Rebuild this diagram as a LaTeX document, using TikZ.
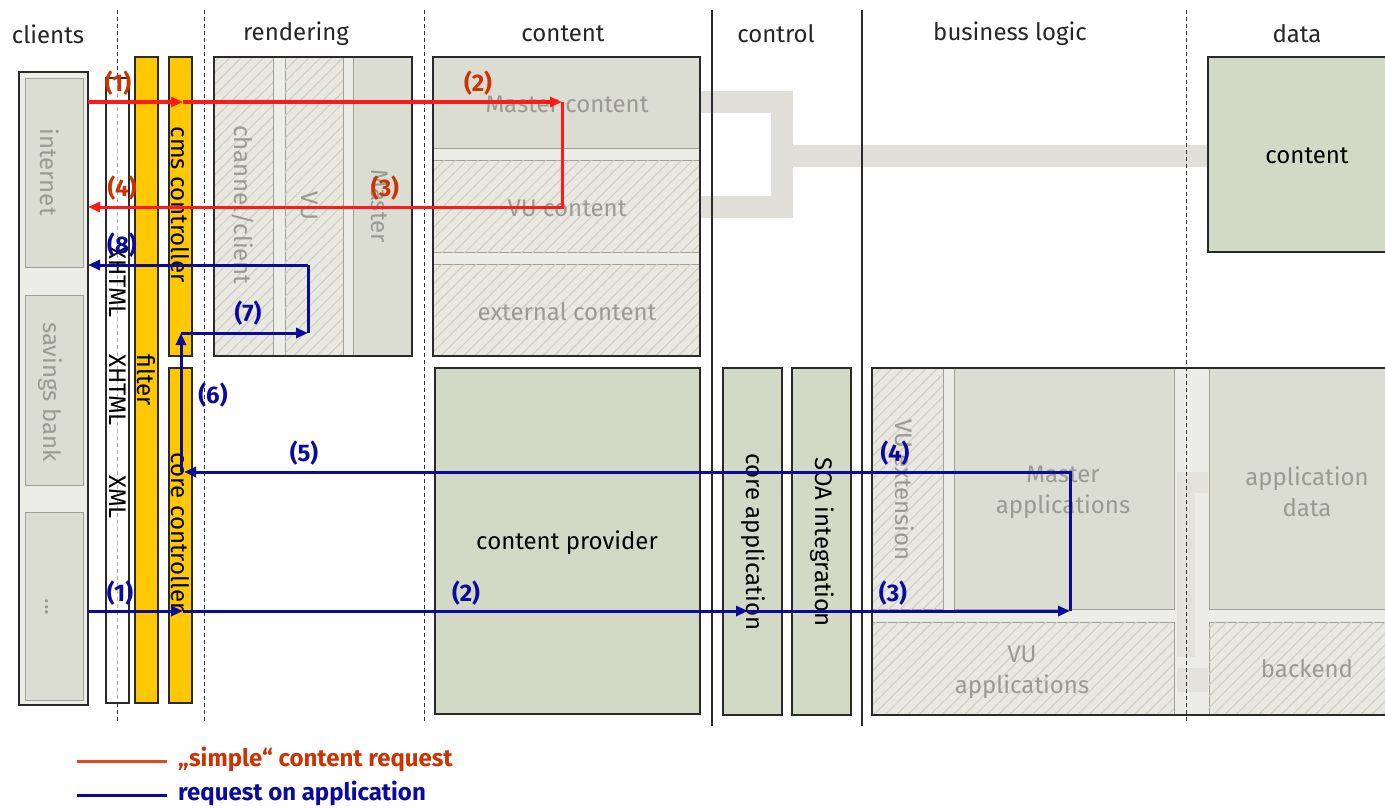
\documentclass[tikz,border=0pt]{standalone}
\usepackage{fontspec}
\setmainfont{Fira Sans}
\usetikzlibrary{arrows.meta,patterns.meta}
\definecolor{cgreen}{HTML}{D2DAC5}
\definecolor{csolid}{HTML}{DCDDD2}
\definecolor{chatchbg}{HTML}{E8E8E0}
\definecolor{chatchln}{HTML}{CDCDC3}
\definecolor{cgap}{HTML}{EDEDE8}
\definecolor{cband}{HTML}{E0E0D8}
\definecolor{cfaint}{HTML}{E3E3DB}
\definecolor{cyellow}{HTML}{FFC800}
\definecolor{cgrayt}{HTML}{9A9A92}
\definecolor{cinner}{HTML}{A0A098}
\definecolor{cdark}{HTML}{2A2A2A}
\definecolor{cred}{HTML}{FF1A1A}
\definecolor{credlbl}{HTML}{CC3300}
\definecolor{credleg}{HTML}{E04A1A}
\definecolor{cblue}{HTML}{0A0A9E}
\tikzset{
  box/.style={draw=cdark, line width=1.6pt, inner sep=0pt, outer sep=0pt, anchor=north west},
  ibox/.style={draw=cinner, line width=1pt, inner sep=0pt, outer sep=0pt, anchor=north west},
  solidbox/.style={ibox, fill=csolid},
  greenbox/.style={box, fill=cgreen},
  hatchbox/.style={ibox, fill=chatchbg, postaction={pattern={Lines[angle=45,distance=8pt,line width=1pt]}, pattern color=chatchln}},
  ybox/.style={box, fill=cyellow},
  txt/.style={font=\fontsize{24}{31}\selectfont, inner sep=0pt, text=black},
  gtxt/.style={txt, text=cgrayt},
  vtxt/.style={txt, rotate=-90},
  gvtxt/.style={gtxt, rotate=-90},
  head/.style={txt, text=black!85},
  rlbl/.style={font=\bfseries\fontsize{24}{28}\selectfont, inner sep=0pt, text=credlbl},
  blbl/.style={font=\bfseries\fontsize{24}{28}\selectfont, inner sep=0pt, text=cblue},
  legtxt/.style={font=\bfseries\fontsize{24}{28}\selectfont, anchor=west, inner sep=0pt},
  sep/.style={line width=0.9pt, dashed, dash pattern=on 4pt off 3pt, draw=black!80},
  wall/.style={line width=2.5pt, draw=cdark},
  band/.style={draw=cband, line width=22pt},
  redarr/.style={draw=cred, line width=3pt, -{Triangle[length=12pt,width=10pt]}},
  redln/.style={draw=cred, line width=3pt},
  bluearr/.style={draw=cblue, line width=3pt, -{Triangle[length=12pt,width=10pt]}},
  blueln/.style={draw=cblue, line width=3pt},
}
\begin{document}
\begin{tikzpicture}[x=1pt,y=-1pt]
\clip (0,0) rectangle (1385,808);
\fill[white] (0,0) rectangle (1385,808);

% headings
\node[head] (hcl) at (48,34) {clients};
\node[head] (hre) at (296,34) {rendering};
\node[head] (hco) at (563,34) {content};
\node[head] (hct) at (776,34) {control};
\node[head] (hbl) at (1010,34) {business logic};
\node[head] (hda) at (1297,34) {data};

% connector bands content -> data
\draw[band] (700,102) -- (782,102) -- (782,207) -- (700,207);
\draw[band] (782,155.5) -- (1210,155.5);

% clients
\node[box, fill=cgap, minimum width=69pt, minimum height=633pt] (cl) at (19,72) {};
\node[solidbox, minimum width=58pt, minimum height=188pt] (inet) at (25,79) {};
\node[solidbox, minimum width=58pt, minimum height=190pt] (sav) at (25,295) {};
\node[solidbox, minimum width=58pt, minimum height=188pt] (dots) at (25,512) {};
\node[gvtxt] (tinet) at (50,172) {internet};
\node[gvtxt] (tsav) at (50,392) {savings bank};
\node[gvtxt] (tdots) at (47,607) {...};

% format strip
\node[box, line width=1.2pt, fill=white, minimum width=23pt, minimum height=625pt] (strip) at (106,78) {};
\draw[sep, draw=black!30] (117,79) -- (117,702);
\node[vtxt] (tx1) at (118,282) {XHTML};
\node[vtxt] (tx2) at (118,390) {XHTML};
\node[vtxt] (tx3) at (118,497) {XML};

% filter and controllers
\node[ybox, minimum width=23pt, minimum height=646pt] (filter) at (135,57) {};
\node[vtxt] (tfil) at (146,380) {filter};
\node[ybox, minimum width=23pt, minimum height=299pt] (cms) at (169,57) {};
\node[vtxt] (tcms) at (180,205) {cms controller};
\node[ybox, minimum width=23pt, minimum height=335pt] (core) at (169,368) {};
\node[vtxt] (tcore) at (180,532) {core controller};

% rendering
\node[box, fill=cgap, minimum width=198pt, minimum height=299pt] (rend) at (214,57) {};
\node[hatchbox, minimum width=59pt, minimum height=299pt] (chan) at (214,57) {};
\node[hatchbox, minimum width=58pt, minimum height=299pt] (vur) at (285,57) {};
\node[solidbox, minimum width=59pt, minimum height=299pt] (mar) at (353,57) {};
\draw[box, fill=none] (214,57) rectangle (412,356);
\node[gvtxt] (tchan) at (243,205) {channel/client};
\node[gvtxt] (tvur) at (310,206) {VU};
\node[gvtxt] (tmar) at (380,206) {Master};

% content
\node[box, fill=cgap, minimum width=267pt, minimum height=299pt] (cont) at (433,57) {};
\node[solidbox, minimum width=267pt, minimum height=91pt] (mcont) at (433,57) {};
\node[hatchbox, minimum width=267pt, minimum height=92pt] (vcont) at (433,160) {};
\node[hatchbox, minimum width=267pt, minimum height=92pt] (econt) at (433,264) {};
\draw[box, fill=none] (433,57) rectangle (700,356);
\node[gtxt] (tmcont) at (567,104) {Master content};
\node[gtxt] (tvcont) at (567,208) {VU content};
\node[gtxt] (tecont) at (567,312) {external content};

\node[greenbox, minimum width=265pt, minimum height=346pt] (prov) at (435,368) {};
\node[txt] (tprov) at (567,543) {content provider};

% control
\node[greenbox, minimum width=59pt, minimum height=347pt] (capp) at (723,368) {};
\node[vtxt] (tcapp) at (753,542) {core application};
\node[greenbox, minimum width=59pt, minimum height=347pt] (soa) at (792,368) {};
\node[vtxt] (tsoa) at (822,542) {SOA integration};

% business logic / data lower block
\node[box, fill=cgap, minimum width=520pt, minimum height=347pt] (biz) at (872,368) {};
\fill[cfaint] (1177,472) rectangle (1208,493);
\fill[cfaint] (1177,493) rectangle (1195,657);
\fill[cfaint] (1177,668) rectangle (1208,692);
\node[hatchbox, minimum width=71pt, minimum height=241pt] (vext) at (872,368) {};
\node[solidbox, minimum width=220pt, minimum height=241pt] (mapp) at (954,368) {};
\node[hatchbox, minimum width=302pt, minimum height=93pt] (vapp) at (872,622) {};
\node[solidbox, minimum width=190pt, minimum height=241pt] (adata) at (1209,368) {};
\node[hatchbox, minimum width=190pt, minimum height=93pt] (back) at (1209,622) {};
\draw[box, fill=none] (872,368) rectangle (1392,715);
\node[gvtxt] (tvext) at (905,490) {VU extension};
\node[gtxt, align=center] (tmapp) at (1063,492) {Master\\applications};
\node[gtxt, align=center] (tvapp) at (1022,672) {VU\\applications};
\node[gtxt, align=center] (tadata) at (1307,492) {application\\data};
\node[gtxt] (tback) at (1307,669) {backend};

% data content
\node[box, fill=cgreen, minimum width=190pt, minimum height=195pt] (dcont) at (1208,57) {};
\node[txt] (tdcont) at (1307,156) {content};

% column separators
\draw[sep] (117,10) -- (117,79);
\draw[sep] (117,703) -- (117,722);
\draw[sep] (204,10) -- (204,722);
\draw[sep] (424,10) -- (424,722);
\draw[sep] (1186,10) -- (1186,722);
\draw[wall] (712,10) -- (712,726);
\draw[wall] (862,10) -- (862,726);

% red request path
\coordinate (r0) at (88,102);
\coordinate (r1) at (183,102);
\coordinate (r2) at (562,102);
\coordinate (r3) at (562,207);
\coordinate (r4) at (312,207);
\coordinate (r5) at (88,207);
\draw[redarr] (r0) -- (r1);
\draw[redarr] (r1) -- (r2);
\draw[redln] (r2) -- (r3) -- (r4);
\draw[redarr] (r4) -- (r5);
\node[rlbl] (l1r) at (118,83) {(1)};
\node[rlbl] (l2r) at (478,83) {(2)};
\node[rlbl] (l3r) at (385,188) {(3)};
\node[rlbl] (l4r) at (122,188) {(4)};

% blue request path
\coordinate (b0) at (88,611);
\coordinate (b1) at (183,611);
\coordinate (b2) at (748,611);
\coordinate (b3) at (1070,611);
\coordinate (b4) at (1070,472);
\coordinate (b5) at (753,472);
\coordinate (b6) at (184,472);
\coordinate (b6a) at (181,472);
\coordinate (b7) at (181,333);
\coordinate (b8) at (308,333);
\coordinate (b9) at (308,265);
\coordinate (b10) at (88,265);
\draw[bluearr] (b0) -- (b1);
\draw[bluearr] (b1) -- (b2);
\draw[bluearr] (b2) -- (b3);
\draw[blueln] (b3) -- (b4) -- (b5);
\draw[bluearr] (b5) -- (b6);
\draw[bluearr] (b6a) -- (b7);
\draw[bluearr] (b7) -- (b8);
\draw[blueln] (b8) -- (b9);
\draw[bluearr] (b9) -- (b10);
\node[blbl] (l1b) at (120,593) {(1)};
\node[blbl] (l2b) at (466,593) {(2)};
\node[blbl] (l3b) at (893,593) {(3)};
\node[blbl] (l4b) at (895,453) {(4)};
\node[blbl] (l5b) at (304,453) {(5)};
\node[blbl] (l6b) at (213,395) {(6)};
\node[blbl] (l7b) at (248,313) {(7)};
\node[blbl] (l8b) at (122,245) {(8)};

% legend
\coordinate (lr0) at (77,761);
\coordinate (lr1) at (167,761);
\coordinate (lb0) at (77,795);
\coordinate (lb1) at (167,795);
\draw[draw=credleg, line width=3pt] (lr0) -- (lr1);
\draw[draw=cblue, line width=3pt] (lb0) -- (lb1);
\node[legtxt, text=credlbl] (legr) at (178,759) {„simple“ content request};
\node[legtxt, text=cblue] (legb) at (178,793) {request on application};
\end{tikzpicture}
\end{document}
